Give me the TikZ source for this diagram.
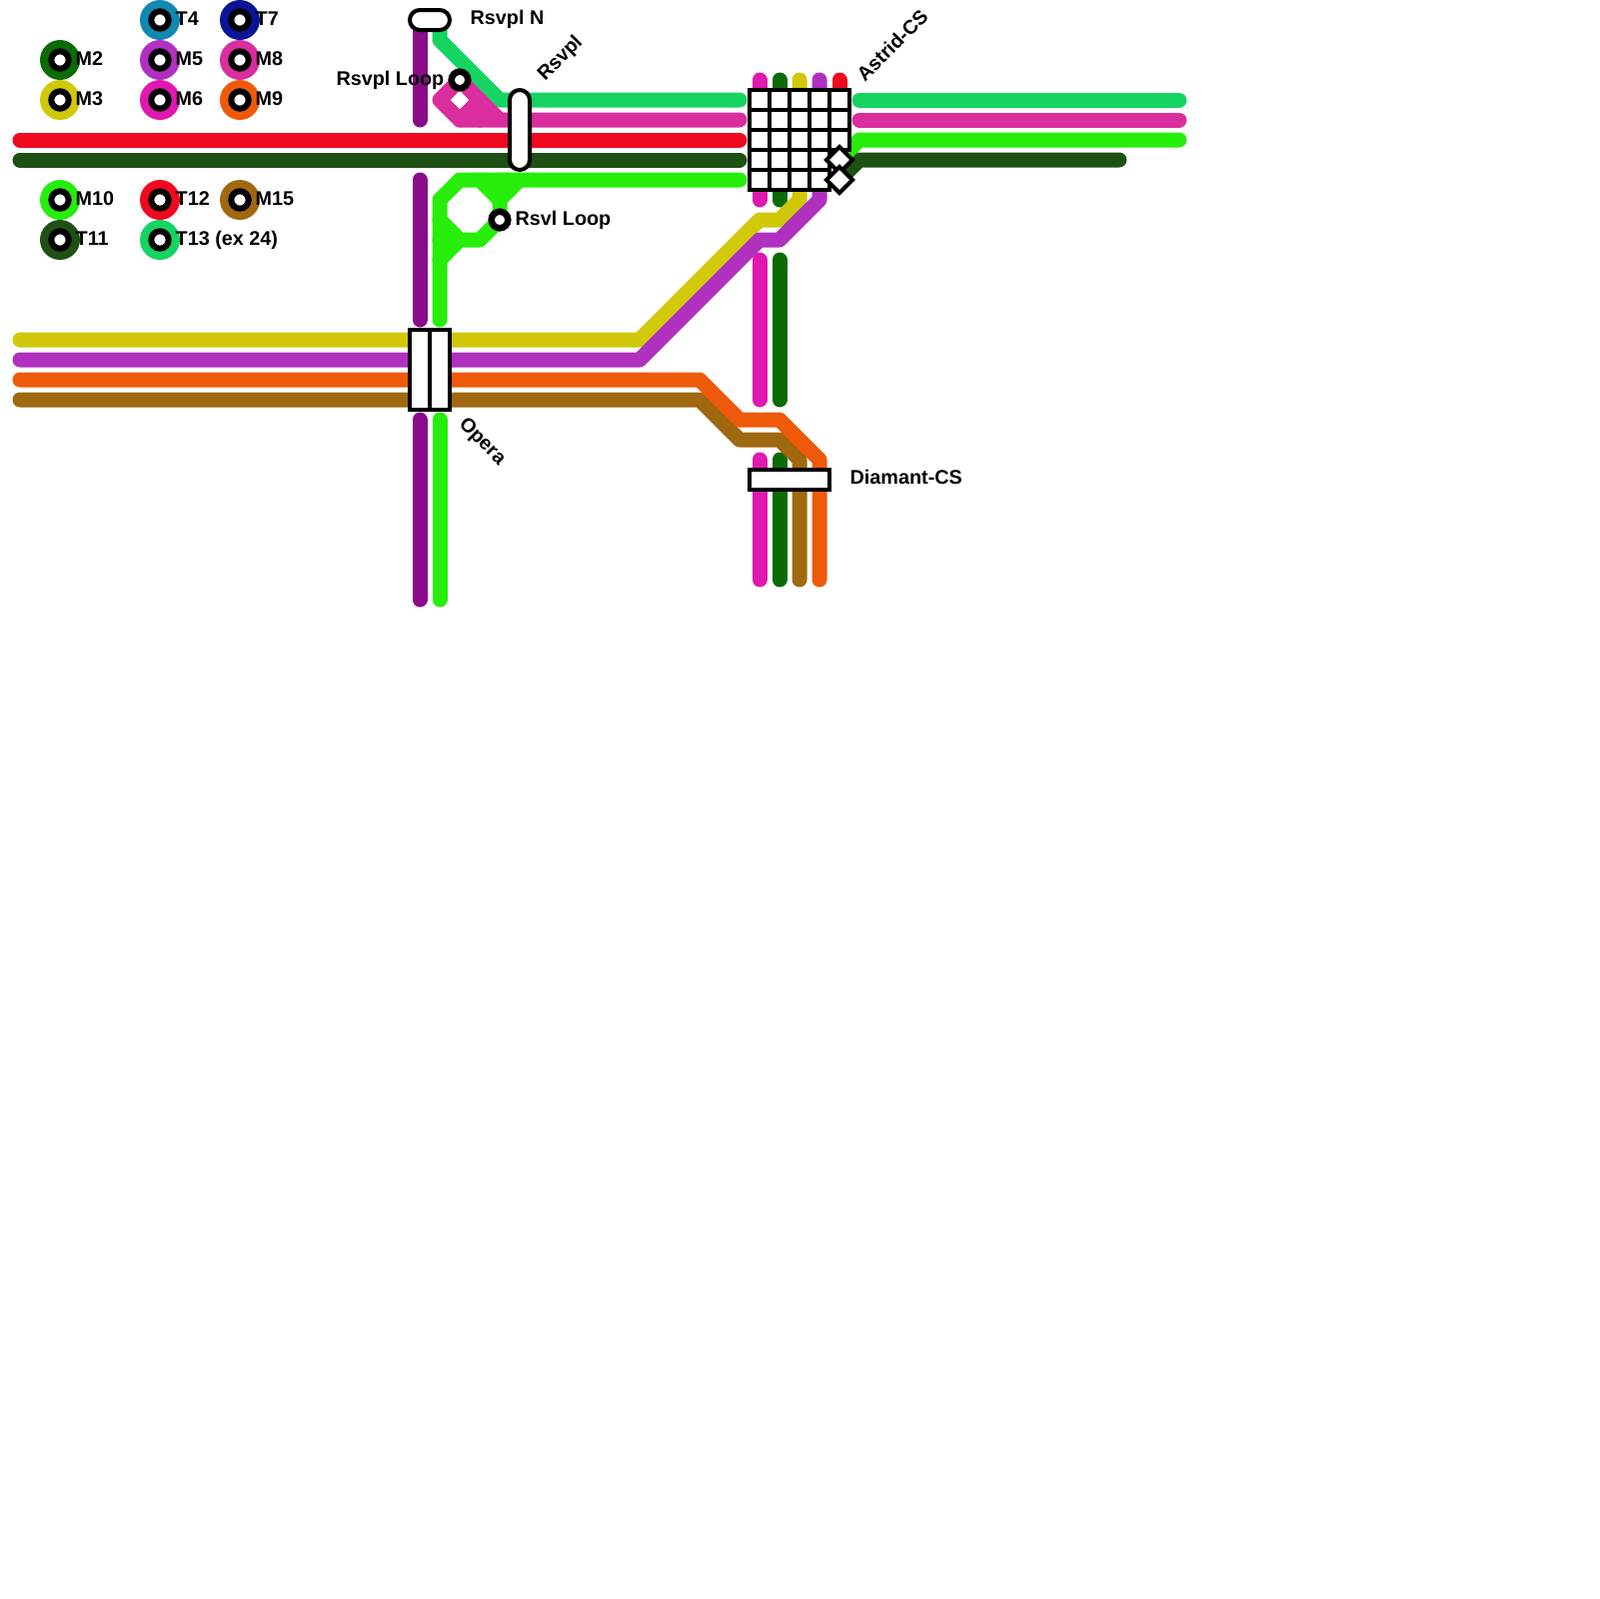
\documentclass[tikz,border=0pt]{standalone}
\usepackage{xcolor}
\usepackage{fontspec}
\setmainfont{Liberation Sans}
\definecolor{colM2}{HTML}{0B6B05}
\definecolor{colM3}{HTML}{D0C808}
\definecolor{colT4}{HTML}{1088B0}
\definecolor{colM5}{HTML}{B030C0}
\definecolor{colM6}{HTML}{E018B0}
\definecolor{colT7}{HTML}{0A1496}
\definecolor{colM8}{HTML}{DA2D9E}
\definecolor{colM9}{HTML}{EE5A0A}
\definecolor{colM10}{HTML}{26EE0A}
\definecolor{colT11}{HTML}{1E5014}
\definecolor{colT12}{HTML}{F00A20}
\definecolor{colT13}{HTML}{15D462}
\definecolor{colM15}{HTML}{A0680F}
\definecolor{colPurple}{HTML}{8A0B8A}
\tikzset{
  metro/.style={line width=1.5mm,line cap=round,line join=round},
  stn/.style={draw=black,fill=white,line width=0.4mm},
  stnlabel/.style={inner sep=0pt,font=\fontsize{5.63pt}{6pt}\selectfont\bfseries},
}
\begin{document}
\begin{tikzpicture}[x=0.1mm,y=-0.1mm]
  \useasboundingbox (0,0) rectangle (1600,1600);
  % legend
  \foreach \px/\py/\lname/\ltext in {60/60/M2/M2,60/100/M3/M3,160/20/T4/T4,160/60/M5/M5,160/100/M6/M6,
    240/20/T7/T7,240/60/M8/M8,240/100/M9/M9,60/200/M10/M10,60/240/T11/T11,
    160/200/T12/T12,160/240/T13/T13 (ex 24),240/200/M15/M15}{
    \fill[col\lname] (\px,\py) circle (20);
    \draw[line width=0.6mm,fill=white] (\px,\py) circle (8.7);
    \node[stnlabel,anchor=base west] (leg\lname) at (\px+15,\py+5) {\ltext};
  }
  % lines
  \draw[metro,colT12] (20,140) -- (740,140);
  \draw[metro,colT11] (20,160) -- (740,160);
  \draw[metro,colT11] (1120,160) -- (860,160) -- (840,180);
  \draw[metro,colT12] (840,80) -- (840,100);
  \draw[metro,colM10] (1180,140) -- (860,140) -- (840,160);
  \draw[metro,colT13] (440,20) -- (440,40) -- (500,100) -- (740,100);
  \draw[metro,colT13] (860,100) -- (1180,100);
  \draw[metro,colM8] (740,120) -- (460,120) -- (440,100) -- (460,80) -- (500,120);
  \draw[metro,colM8] (460,120) -- (480,100) -- (480,120);
  \draw[metro,colM8] (860,120) -- (1180,120);
  \draw[metro,colPurple] (420,20) -- (420,120);
  \draw[metro,colPurple] (420,180) -- (420,320);
  \draw[metro,colPurple] (420,420) -- (420,600);
  \draw[metro,colM10] (740,180) -- (460,180) -- (440,200) -- (440,320);
  \draw[metro,colM10] (440,420) -- (440,600);
  \draw[metro,colM10] (480,180) -- (500,200) -- (500,220) -- (480,240) -- (460,240) -- (440,220);
  \draw[metro,colM10] (520,180) -- (500,200) -- (500,180);
  \draw[metro,colM10] (460,240) -- (440,260);
  \draw[metro,colM10] (460,240) -- (440,240);
  \draw[metro,colM6] (760,80) -- (760,200);
  \draw[metro,colM6] (760,260) -- (760,400);
  \draw[metro,colM6] (760,460) -- (760,580);
  \draw[metro,colM2] (780,80) -- (780,200);
  \draw[metro,colM2] (780,260) -- (780,400);
  \draw[metro,colM2] (780,460) -- (780,580);
  \draw[metro,colM3] (20,340) -- (640,340) -- (760,220) -- (780,220) -- (800,200) -- (800,80);
  \draw[metro,colM5] (20,360) -- (640,360) -- (760,240) -- (780,240) -- (820,200) -- (820,80);
  \draw[metro,colM15] (20,400) -- (700,400) -- (740,440) -- (780,440) -- (800,460) -- (800,580);
  \draw[metro,colM9] (20,380) -- (700,380) -- (740,420) -- (780,420) -- (820,460) -- (820,580);
  % stations
  \draw[stn,rounded corners=1mm] (410,10) rectangle (450,30);
  \draw[stn,rounded corners=1mm] (510,90) rectangle (530,170);
  \draw[stn] (410,330) rectangle (430,410);
  \draw[stn] (430,330) rectangle (450,410);
  \draw[stn] (750,470) rectangle (830,490);
  \foreach \gx in {750,770,790,810}
    \foreach \gy in {90,110,130,150,170}
      \draw[stn] (\gx,\gy) rectangle +(20,20);
  \foreach \gy in {90,110,130}
    \draw[stn] (830,\gy) rectangle +(20,20);
  \draw[stn] (840,147) -- (853,160) -- (840,173) -- (827,160) -- cycle;
  \draw[stn] (840,167) -- (853,180) -- (840,193) -- (827,180) -- cycle;
  \draw[line width=0.65mm,fill=white] (460,80) circle (8.3);
  \draw[line width=0.65mm,fill=white] (500,220) circle (8.3);
  % labels
  \node[stnlabel,anchor=base west] (rsvplN) at (470,24) {Rsvpl N};
  \node[stnlabel,anchor=base east] (rsvplLoop) at (445,85) {Rsvpl Loop};
  \node[stnlabel,anchor=base west] (rsvlLoop) at (515,225) {Rsvl Loop};
  \node[stnlabel,anchor=base west,rotate=45] (rsvpl) at (545,82) {Rsvpl};
  \node[stnlabel,anchor=base west,rotate=45] (astrid) at (865,83) {Astrid-CS};
  \node[stnlabel,anchor=base west,rotate=-45] (opera) at (458,425) {Opera};
  \node[stnlabel,anchor=base west] (diamant) at (850,484.5) {Diamant-CS};
\end{tikzpicture}
\end{document}
